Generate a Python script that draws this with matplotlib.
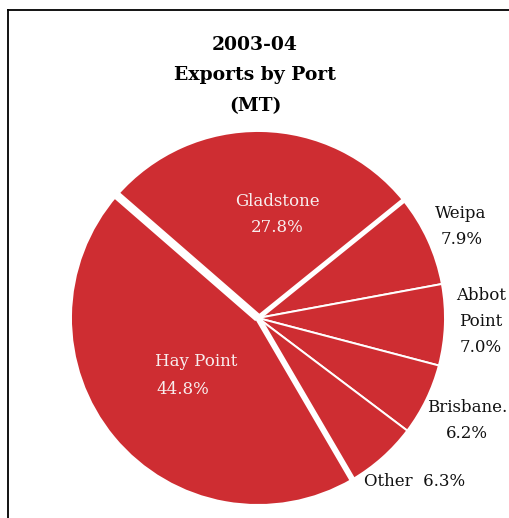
import matplotlib
matplotlib.use('Agg')
import matplotlib.pyplot as plt
from matplotlib.lines import Line2D
import numpy as np

ports = ['Gladstone', 'Weipa', 'Abbot Point', 'Brisbane.', 'Other', 'Hay Point']
shares = [27.8, 7.9, 7.0, 6.2, 6.3, 44.8]
title_lines = ['2003-04', 'Exports by Port', '(MT)']

red = '#ce2d32'
plt.rcParams['font.family'] = 'DejaVu Serif'

W, H = 510, 518
fig = plt.figure(figsize=(W / 100, H / 100), dpi=100)

# pie centre (258, 318) px, radius ~187 px
cx, cy, r = 258, 318, 187
ax = fig.add_axes([(cx - r) / W, 1 - (cy + r) / H, 2 * r / W, 2 * r / H])
wedges, _ = ax.pie(shares, startangle=139, counterclock=False, colors=[red] * 6,
                   wedgeprops=dict(edgecolor='white', linewidth=1.4))
ax.set_xlim(-1, 1)
ax.set_ylim(-1, 1)
ax.set_aspect('auto')
ax.axis('off')

# wider gaps on the Gladstone / Hay Point borders
gaps = [(wedges[0].theta2, 6.0), (wedges[0].theta1, 3.6), (wedges[5].theta2, 4.3)]
for ang, lw in gaps:
    a = np.deg2rad(ang)
    ax.plot([0, 1.05 * np.cos(a)], [0, 1.05 * np.sin(a)], color='white', lw=lw,
            solid_capstyle='butt', clip_on=False)

# frame (left and top only)
fig.add_artist(Line2D([8 / W, 8 / W], [0, 1 - 10 / H], color='black', lw=1.3))
fig.add_artist(Line2D([8 / W, 1], [1 - 10 / H, 1 - 10 / H], color='black', lw=1.3))

def px(x, y):
    return x / W, 1 - y / H

for t, y in zip(title_lines, [45, 75, 106]):
    fig.text(*px(255, y), t, ha='center', va='center', fontsize=13.5, fontweight='bold')

fs = 12
inside = dict(ha='center', va='center', fontsize=fs, color='#f8eeee')
outside = dict(ha='center', va='center', fontsize=fs, color='#111111')

fig.text(*px(277, 201), ports[0], **inside)
fig.text(*px(277, 228), f'{shares[0]}%', **inside)
fig.text(*px(196, 362), ports[5], **inside)
fig.text(*px(183, 390), f'{shares[5]}%', **inside)

fig.text(*px(461, 213), ports[1], **outside)
fig.text(*px(462, 240), f'{shares[1]}%', **outside)
fig.text(*px(481, 295), 'Abbot', **outside)
fig.text(*px(481, 321), 'Point', **outside)
fig.text(*px(481, 347), f'{shares[2]}%', **outside)
fig.text(*px(467, 407), ports[3], **outside)
fig.text(*px(467, 434), f'{shares[3]}%', **outside)
fig.text(*px(415, 481), f'{ports[4]}  {shares[4]}%', **outside)

fig.savefig('out.png', dpi=100)
